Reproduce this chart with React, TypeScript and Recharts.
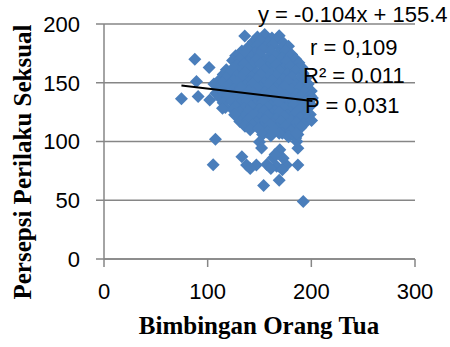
import React from 'react';
import {
  ScatterChart, Scatter, XAxis, YAxis, CartesianGrid,
} from 'recharts';

// regression reported on the chart
const slope = -0.104;
const intercept = 155.4;
const statLines = ['y = -0.104x + 155.4', 'r = 0,109', 'R\u00b2 = 0.011', 'P = 0,031'];

const xTicks = [0, 100, 200, 300];
const yTicks = [0, 50, 100, 150, 200];

// main cloud of respondents (bimbingan, persepsi)
const cluster: [number, number][] = [
  [148, 189], [155, 191], [162, 188], [169, 190],
  [144, 185], [151, 186], [159, 184], [166, 186], [173, 184],
  [140, 181], [148, 182], [156, 180], [163, 182], [171, 179], [178, 181],
  [133, 177], [139, 178], [146, 176], [153, 178], [161, 177], [168, 175], [175, 177], [181, 174],
  [127, 173], [136, 174], [143, 172], [150, 174], [158, 171], [165, 173], [172, 171], [179, 172], [185, 170],
  [124, 169], [131, 170], [139, 168], [147, 170], [154, 167], [162, 169], [169, 166], [176, 168], [183, 166], [188, 167],
  [128, 165], [135, 166], [143, 164], [151, 166], [158, 163], [166, 165], [173, 162], [180, 164], [187, 162], [191, 163],
  [118, 161], [124, 162], [132, 160], [139, 162], [147, 159], [155, 161], [162, 158], [170, 160], [177, 158], [184, 160], [192, 158],
  [115, 157], [121, 158], [128, 156], [136, 158], [143, 155], [151, 157], [158, 154], [166, 156], [173, 153], [181, 155], [188, 153], [195, 154],
  [112, 153], [118, 154], [125, 152], [132, 154], [140, 151], [147, 153], [155, 150], [162, 152], [170, 149], [177, 151], [185, 148], [192, 150], [197, 149],
  [106, 149], [114, 150], [121, 148], [129, 150], [136, 147], [144, 149], [151, 146], [159, 148], [166, 145], [174, 147], [181, 144], [189, 146], [196, 145], [200, 143],
  [110, 145], [117, 146], [125, 144], [132, 146], [140, 143], [148, 145], [155, 142], [163, 144], [170, 141], [178, 143], [186, 140], [193, 142], [199, 139],
  [108, 141], [115, 142], [122, 140], [129, 142], [137, 139], [144, 141], [152, 138], [159, 140], [167, 137], [175, 139], [182, 136], [190, 138], [197, 135], [201, 137],
  [112, 137], [119, 138], [126, 136], [134, 138], [141, 135], [149, 137], [156, 134], [164, 136], [171, 133], [179, 135], [187, 132], [194, 134], [200, 131],
  [115, 133], [123, 134], [130, 132], [138, 134], [146, 131], [153, 133], [161, 130], [168, 132], [176, 129], [183, 131], [191, 128], [198, 130],
  [117, 129], [127, 130], [135, 128], [142, 130], [150, 127], [158, 129], [165, 126], [173, 128], [180, 125], [188, 127], [195, 124],
  [131, 125], [139, 126], [147, 124], [154, 126], [162, 123], [169, 125], [177, 122], [185, 124], [192, 121], [199, 123],
  [135, 121], [143, 122], [151, 120], [158, 122], [166, 119], [174, 121], [181, 118], [189, 120], [196, 119],
  [131, 117], [139, 118], [147, 116], [155, 118], [163, 115], [170, 117], [178, 114], [186, 116], [193, 115],
  [136, 113], [144, 114], [152, 112], [160, 114], [167, 111], [175, 113], [183, 110], [190, 112],
  [141, 110], [149, 111], [157, 108], [165, 110], [172, 107], [180, 109], [187, 106],
  [153, 106], [161, 105], [169, 107], [178, 104], [185, 103],
];

// scattered points away from the cloud
const outliers: [number, number][] = [
  [74.7, 136.3], [87.6, 170], [101.4, 162.9], [89.2, 151], [90.8, 138.2], [102, 135.4],
  [114.3, 128.3], [135.8, 189.8], [124.6, 126.9], [126, 122.7],
  [107.5, 102], [105.3, 80.2], [133, 87], [150, 99.5], [152, 94.5], [154, 62.5], [169, 67],
  [169.6, 92.9], [186, 100], [187, 94.3], [185.8, 107], [192.2, 49], [200.2, 117.8],
  [137.5, 80], [147, 80], [157, 80.5], [166.5, 79], [176, 80], [187, 80],
  [141, 77], [161, 77], [172, 76], [163, 86], [163, 108.5], [172.8, 85.8], [165, 89],
];

const points = [...cluster, ...outliers].map(([x, y]) => ({ x, y }));
const xMin = Math.min(...points.map(p => p.x));
const xMax = Math.max(...points.map(p => p.x));
const trend = [xMin, xMax].map(x => ({ x, y: slope * x + intercept }));

const tickFont = { fontSize: 22, fill: '#000', fontFamily: '"Liberation Sans", Arial, sans-serif' };
const gridColor = '#868686';

function Diamond(props: any) {
  const { cx, cy } = props;
  const r = 6.5;
  return (
    <polygon
      points={`${cx},${cy - r} ${cx + r},${cy} ${cx},${cy + r} ${cx - r},${cy}`}
      fill="#4A7EBB"
    />
  );
}

export default function App() {
  return (
    <div style={{ position: 'absolute', left: 0, top: 0, width: 450, height: 347, background: '#fff' }}>
      <ScatterChart width={450} height={347} margin={{ top: 24, right: 35, left: 0, bottom: 0 }}>
        <CartesianGrid vertical={false} stroke={gridColor} strokeWidth={1.5} />
        <XAxis
          type="number"
          dataKey="x"
          domain={[0, 300]}
          ticks={xTicks}
          height={88}
          tick={tickFont}
          tickSize={8}
          tickMargin={16}
          axisLine={{ stroke: gridColor, strokeWidth: 1.5 }}
          tickLine={{ stroke: gridColor, strokeWidth: 1.5 }}
        />
        <YAxis
          type="number"
          dataKey="y"
          domain={[0, 200]}
          ticks={yTicks}
          width={104}
          tick={tickFont}
          tickSize={8}
          tickMargin={16}
          axisLine={{ stroke: gridColor, strokeWidth: 1.5 }}
          tickLine={{ stroke: gridColor, strokeWidth: 1.5 }}
        />
        <Scatter data={points} shape={<Diamond />} isAnimationActive={false} />
        <Scatter
          data={trend}
          line={{ stroke: '#000', strokeWidth: 2 }}
          shape={() => <g />}
          isAnimationActive={false}
        />
      </ScatterChart>
      <svg width={450} height={347} style={{ position: 'absolute', left: 0, top: 0, pointerEvents: 'none' }}>
        <g fontFamily='"Liberation Sans", Arial, sans-serif' fontSize={22} fill="#000">
          <text x={258} y={22}>{statLines[0]}</text>
          <text x={310} y={55}>{statLines[1]}</text>
          <text x={303} y={83}>{statLines[2]}</text>
          <text x={305} y={113}>{statLines[3]}</text>
        </g>
        <g fontFamily='"Liberation Serif", "Times New Roman", serif' fontSize={25} fontWeight="bold" fill="#000">
          <text x={259} y={334} textAnchor="middle">Bimbingan Orang Tua</text>
          <text x={31} y={162} textAnchor="middle" transform="rotate(-90 31 162)">Persepsi Perilaku Seksual</text>
        </g>
      </svg>
    </div>
  );
}
